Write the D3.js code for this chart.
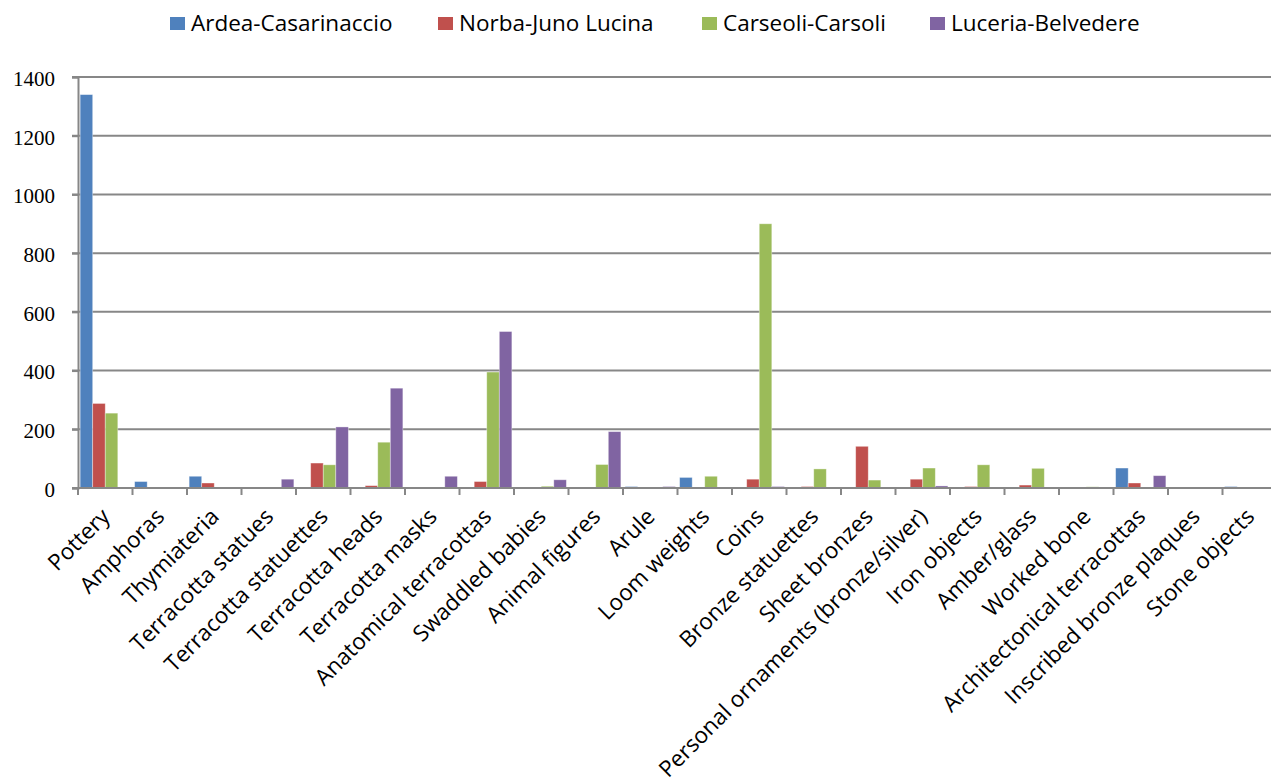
<!DOCTYPE html>
<html>
<head>
<meta charset="utf-8">
<script src="https://cdn.jsdelivr.net/npm/d3@7"></script>
<style>
  body { margin: 0; background: #fff; }
  svg { display: block; }
  .ylab { font-family: "Liberation Serif", "Times New Roman", serif; font-size: 21px; fill: #000; }
  .xlab { font-family: "Open Sans", "Noto Sans", sans-serif; font-size: 22.5px; fill: #000; }
  .legend text { font-family: "Open Sans", "Noto Sans", sans-serif; font-size: 22.5px; fill: #000; }
</style>
</head>
<body>
<svg width="1271" height="780"></svg>
<script>
// categories and series
var categories = ["Pottery", "Amphoras", "Thymiateria", "Terracotta statues", "Terracotta statuettes",
  "Terracotta heads", "Terracotta masks", "Anatomical terracottas", "Swaddled babies", "Animal figures",
  "Arule", "Loom weights", "Coins", "Bronze statuettes", "Sheet bronzes",
  "Personal ornaments (bronze/silver)", "Iron objects", "Amber/glass", "Worked bone",
  "Architectonical terracottas", "Inscribed bronze plaques", "Stone objects"];

var seriesNames = ["Ardea-Casarinaccio", "Norba-Juno Lucina", "Carseoli-Carsoli", "Luceria-Belvedere"];

var ardea   = [1340, 22, 40, 0, 0, 0, 0, 0, 0, 0, 5, 36, 0, 0, 0, 2, 1, 0, 0, 68, 0, 5];
var norba   = [288, 0, 17, 0, 85, 8, 0, 22, 0, 0, 0, 0, 30, 5, 142, 30, 5, 10, 2, 17, 1, 0];
var carseoli = [255, 0, 0, 0, 79, 156, 0, 395, 6, 80, 0, 40, 900, 65, 27, 68, 79, 67, 4, 0, 0, 0];
var luceria = [0, 0, 0, 30, 208, 340, 40, 533, 28, 192, 5, 1, 5, 0, 0, 7, 0, 0, 0, 42, 0, 0];

var yTicks = [0, 200, 400, 600, 800, 1000, 1200, 1400];
var colors = ["#4F81BD", "#C0504D", "#9BBB59", "#8064A2"];

var series = [ardea, norba, carseoli, luceria];

var svg = d3.select("svg");

var margin = { left: 78, top: 77, bottom: 488 };
var plotRight = 78 + 22 * 54.5;

var x = d3.scaleBand()
  .domain(categories)
  .range([margin.left, plotRight])
  .paddingInner(0)
  .paddingOuter(0);

var xInner = d3.scaleBand()
  .domain(d3.range(4))
  .range([0, x.bandwidth()])
  .paddingOuter(0.17)
  .paddingInner(0);

var y = d3.scaleLinear()
  .domain([0, 1400])
  .range([margin.bottom, margin.top]);

var g = {
  grid: svg.append("g").attr("id", "grid"),
  bars: svg.append("g").attr("id", "bars"),
  axes: svg.append("g").attr("id", "axes"),
  legend: svg.append("g").attr("class", "legend")
};

// gridlines (Excel style, grey)
g.grid.selectAll("line")
  .data(yTicks.slice(1))
  .enter()
  .append("line")
  .attr("x1", margin.left - 6)
  .attr("x2", 1271)
  .attr("y1", function(d) { return y(d); })
  .attr("y2", function(d) { return y(d); })
  .attr("stroke", "#878787")
  .attr("stroke-width", 2);

// bars
var groups = g.bars.selectAll("g.series")
  .data(series)
  .enter()
  .append("g")
  .attr("class", "series")
  .attr("fill", function(d, i) { return colors[i]; });

groups.each(function(vals, si) {
  d3.select(this).selectAll("rect")
    .data(vals)
    .enter()
    .append("rect")
    .attr("x", function(d, i) { return x(categories[i]) + xInner(si); })
    .attr("width", xInner.bandwidth())
    .attr("y", function(d) { return y(d); })
    .attr("height", function(d) { return y(0) - y(d); })
    .attr("stroke", "rgba(255,255,255,0.45)")
    .attr("stroke-width", 0.8);
});

// y axis
var yAxis = d3.axisLeft(y).tickValues(yTicks).tickFormat(d3.format("d")).tickSize(6).tickPadding(17);
var ya = g.axes.append("g")
  .attr("transform", "translate(" + margin.left + ",0)")
  .call(yAxis);
ya.select(".domain").attr("stroke", "#878787").attr("stroke-width", 2);
ya.selectAll(".tick line").attr("stroke", "#878787").attr("stroke-width", 2);
ya.selectAll(".tick text").attr("class", "ylab").attr("font-size", null).attr("font-family", null)
  .attr("dy", "0.4em");

// x axis
var xa = g.axes.append("g")
  .attr("transform", "translate(0," + margin.bottom + ")");
xa.append("line")
  .attr("x1", margin.left - 6)
  .attr("x2", 1271)
  .attr("stroke", "#878787")
  .attr("stroke-width", 2);
xa.selectAll("line.tick")
  .data(d3.range(categories.length + 1))
  .enter()
  .append("line")
  .attr("class", "tick")
  .attr("x1", function(i) { return margin.left + i * x.step(); })
  .attr("x2", function(i) { return margin.left + i * x.step(); })
  .attr("y1", 0)
  .attr("y2", 7)
  .attr("stroke", "#878787")
  .attr("stroke-width", 2);

xa.selectAll("text")
  .data(categories)
  .enter()
  .append("text")
  .attr("class", "xlab")
  .attr("text-anchor", "end")
  .attr("transform", function(d) {
    return "translate(" + (x(d) + x.bandwidth() / 2 + 6) + ",30) rotate(-45)";
  })
  .text(function(d) { return d; });

// legend
var legendX = [170, 438, 702, 930];
var items = g.legend.selectAll("g.item")
  .data(seriesNames)
  .enter()
  .append("g")
  .attr("class", "item")
  .attr("transform", function(d, i) { return "translate(" + legendX[i] + ",0)"; });

items.append("rect")
  .attr("x", 0)
  .attr("y", 17)
  .attr("width", 15)
  .attr("height", 13)
  .attr("fill", function(d, i) { return colors[i]; });

items.append("text")
  .attr("x", 21)
  .attr("y", 31)
  .text(function(d) { return d; });
</script>
</body>
</html>
